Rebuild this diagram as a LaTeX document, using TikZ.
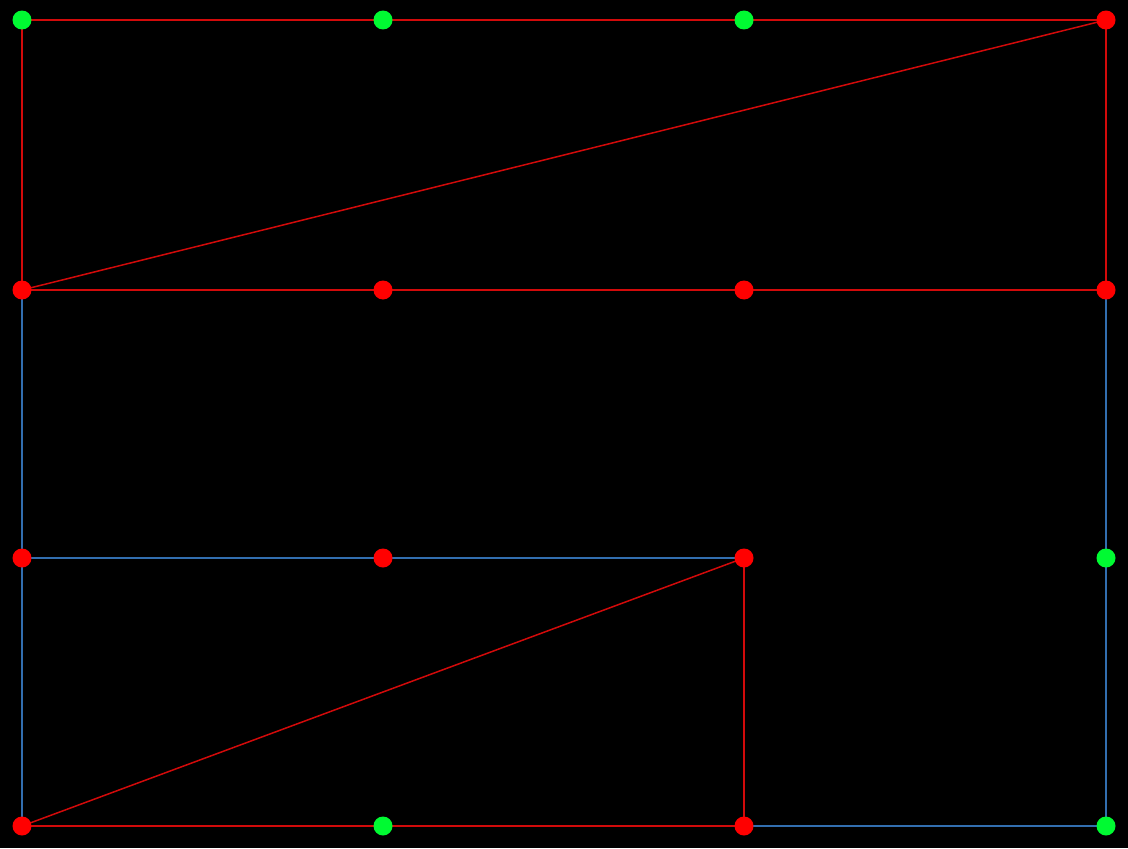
\documentclass[tikz,border=0pt]{standalone}
\usepackage{tikz}
\definecolor{redline}{RGB}{210,10,10}
\definecolor{blueline}{RGB}{50,110,175}
\definecolor{reddot}{RGB}{255,0,0}
\definecolor{greendot}{RGB}{0,250,50}
\tikzset{
  rdot/.style={circle,fill=reddot,inner sep=0pt,minimum size=0.38cm},
  gdot/.style={circle,fill=greendot,inner sep=0pt,minimum size=0.38cm},
  rl/.style={draw=redline,line width=0.03cm},
  bl/.style={draw=blueline,line width=0.03cm}
}
\begin{document}
\begin{tikzpicture}[x=0.02cm,y=-0.02cm]
\fill[black] (0,0) rectangle (1128,848);
\useasboundingbox (0,0) rectangle (1128,848);
\coordinate (a1) at (22,20);
\coordinate (a2) at (383,20);
\coordinate (a3) at (744,20);
\coordinate (a4) at (1106,20);
\coordinate (b1) at (22,290);
\coordinate (b2) at (383,290);
\coordinate (b3) at (744,290);
\coordinate (b4) at (1106,290);
\coordinate (c1) at (22,558);
\coordinate (c2) at (383,558);
\coordinate (c3) at (744,558);
\coordinate (c4) at (1106,558);
\coordinate (d1) at (22,826);
\coordinate (d2) at (383,826);
\coordinate (d3) at (744,826);
\coordinate (d4) at (1106,826);
\draw[rl] (a1) -- (a4);
\draw[rl] (a1) -- (b1);
\draw[rl] (a4) -- (b4);
\draw[rl] (b1) -- (a4);
\draw[rl] (b1) -- (b4);
\draw[bl] (b1) -- (d1);
\draw[bl] (b4) -- (d4);
\draw[bl] (c1) -- (c3);
\draw[rl] (c3) -- (d3);
\draw[rl] (d1) -- (c3);
\draw[rl] (d1) -- (d3);
\draw[bl] (d3) -- (d4);
\node[gdot] (na1) at (a1) {};
\node[gdot] (na2) at (a2) {};
\node[gdot] (na3) at (a3) {};
\node[rdot] (na4) at (a4) {};
\node[rdot] (nb1) at (b1) {};
\node[rdot] (nb2) at (b2) {};
\node[rdot] (nb3) at (b3) {};
\node[rdot] (nb4) at (b4) {};
\node[rdot] (nc1) at (c1) {};
\node[rdot] (nc2) at (c2) {};
\node[rdot] (nc3) at (c3) {};
\node[gdot] (nc4) at (c4) {};
\node[rdot] (nd1) at (d1) {};
\node[gdot] (nd2) at (d2) {};
\node[rdot] (nd3) at (d3) {};
\node[gdot] (nd4) at (d4) {};
\end{tikzpicture}
\end{document}
